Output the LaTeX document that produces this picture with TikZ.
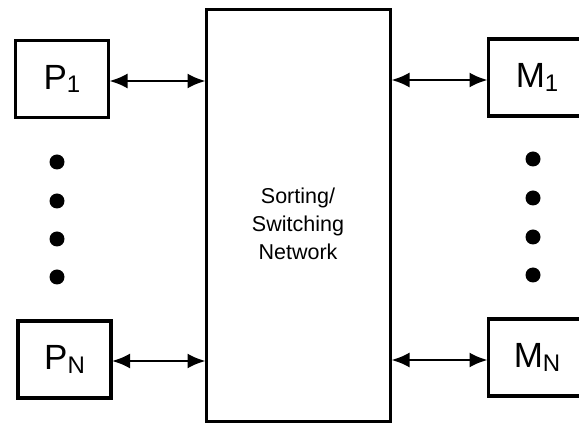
\documentclass[tikz,border=0pt]{standalone}
\usepackage{fontspec}
\setmainfont{Liberation Sans}
\usetikzlibrary{arrows.meta}
\begin{document}
\begin{tikzpicture}[x=1pt,y=-1pt,
  box/.style={draw,line width=3.2pt,inner sep=0pt,outer sep=0pt,minimum width=93pt,minimum height=77pt,font=\fontsize{35}{40}\selectfont},
  link/.style={line width=2.4pt,{Latex[length=18pt,width=15pt]}-{Latex[length=18pt,width=15pt]},shorten <=1pt,shorten >=1pt},
  dot/.style={circle,fill=black,inner sep=0pt,minimum size=15pt}]
\useasboundingbox (0,0) rectangle (579,427);
\clip (0,0) rectangle (579,427);
\newcommand{\sbs}[1]{\raisebox{-0.1em}{\fontsize{24}{26}\selectfont #1}}
\node[draw,line width=3.2pt,inner sep=0pt,outer sep=0pt,minimum width=184pt,minimum height=412pt] (net) at (298.5,215.5) {};
\node[align=center,font=\fontsize{21.5}{28}\selectfont] (lbl) at (298,224) {Sorting/\\Switching\\Network};
\node[box] (p1) at (62,79) {P\sbs{1}};
\node[box] (pn) at (64.5,359.5) {P\sbs{N}};
\node[box,minimum width=113pt,anchor=west] (m1) at (488.5,77.5) {\hspace*{-8pt}M\sbs{1}\hspace*{8pt}};
\node[box,minimum width=113pt,anchor=west] (mn) at (488.5,357.5) {\hspace*{-8pt}M\sbs{N}\hspace*{8pt}};
\draw[link] (p1.east |- 0,81) -- (net.west |- 0,81);
\draw[link] (pn.east |- 0,361) -- (net.west |- 0,361);
\draw[link] (net.east |- 0,80) -- (m1.west |- 0,80);
\draw[link] (net.east |- 0,360) -- (mn.west |- 0,360);
\foreach \i/\y in {1/162,2/201,3/239,4/277}{
  \node[dot] (ld\i) at (57,\y) {};
}
\foreach \i/\y in {1/159,2/198,3/237,4/275}{
  \node[dot] (rd\i) at (533,\y) {};
}
\end{tikzpicture}
\end{document}
